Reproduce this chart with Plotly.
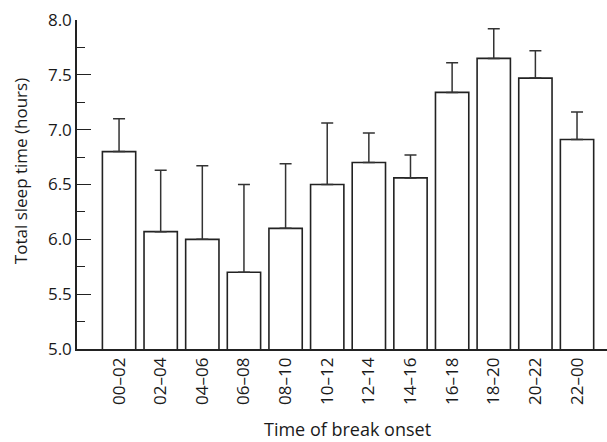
import plotly.graph_objects as go

categories = ["00–02", "02–04", "04–06", "06–08", "08–10", "10–12",
              "12–14", "14–16", "16–18", "18–20", "20–22", "22–00"]
sleep_hours = [6.80, 6.07, 6.00, 5.70, 6.10, 6.50, 6.70, 6.56, 7.34, 7.65, 7.47, 6.91]
error_upper = [0.30, 0.56, 0.67, 0.80, 0.59, 0.56, 0.27, 0.21, 0.27, 0.27, 0.25, 0.25]
error_lower = [0] * len(categories)

x_title = "Time of break onset"
y_title = "Total sleep time (hours)"

FONT = "Open Sans"

fig = go.Figure()
fig.add_trace(go.Bar(
    x=list(range(len(categories))),
    y=sleep_hours,
    marker=dict(color="white", line=dict(color="#222222", width=1.6)),
    error_y=dict(type="data", symmetric=False, array=error_upper,
                 arrayminus=error_lower, color="#333333", thickness=1.5, width=6),
    width=0.8,
))

fig.update_layout(
    width=607, height=442,
    margin=dict(l=77, r=0, t=20, b=93),
    plot_bgcolor="white", paper_bgcolor="white",
    showlegend=False,
    font=dict(family=FONT, color="#1a1a1a", size=16),
    annotations=[
        dict(text=y_title, xref="paper", yref="paper", x=-0.106, y=0.54,
             xanchor="center", yanchor="middle", textangle=-90, showarrow=False,
             font=dict(size=17)),
        dict(text=x_title, xref="paper", yref="paper", x=0.511, y=-0.242,
             xanchor="center", yanchor="middle", showarrow=False,
             font=dict(size=18)),
    ],
)
fig.update_xaxes(
    automargin=False,
    range=[-1.01, 11.72],
    tickmode="array",
    tickvals=list(range(len(categories))),
    ticktext=categories,
    tickangle=-90,
    ticks="",
    showline=True, linecolor="#222222", linewidth=1.5,
    showgrid=False, zeroline=False,
    tickfont=dict(size=17),
)
fig.update_yaxes(
    automargin=False,
    range=[5.0, 8.0],
    tick0=5.0, dtick=0.5,
    tickformat=".1f",
    ticks="inside", ticklen=14, tickwidth=1.3, tickcolor="#222222",
    minor=dict(ticks="inside", ticklen=8, dtick=0.25, tickcolor="#222222", tickwidth=1.3),
    showline=True, linecolor="#222222", linewidth=1.5,
    showgrid=False, zeroline=False,
    tickfont=dict(size=17),
)

fig.write_html("out.html", config={"displayModeBar": False},
               post_script="document.body.style.margin='0';")
